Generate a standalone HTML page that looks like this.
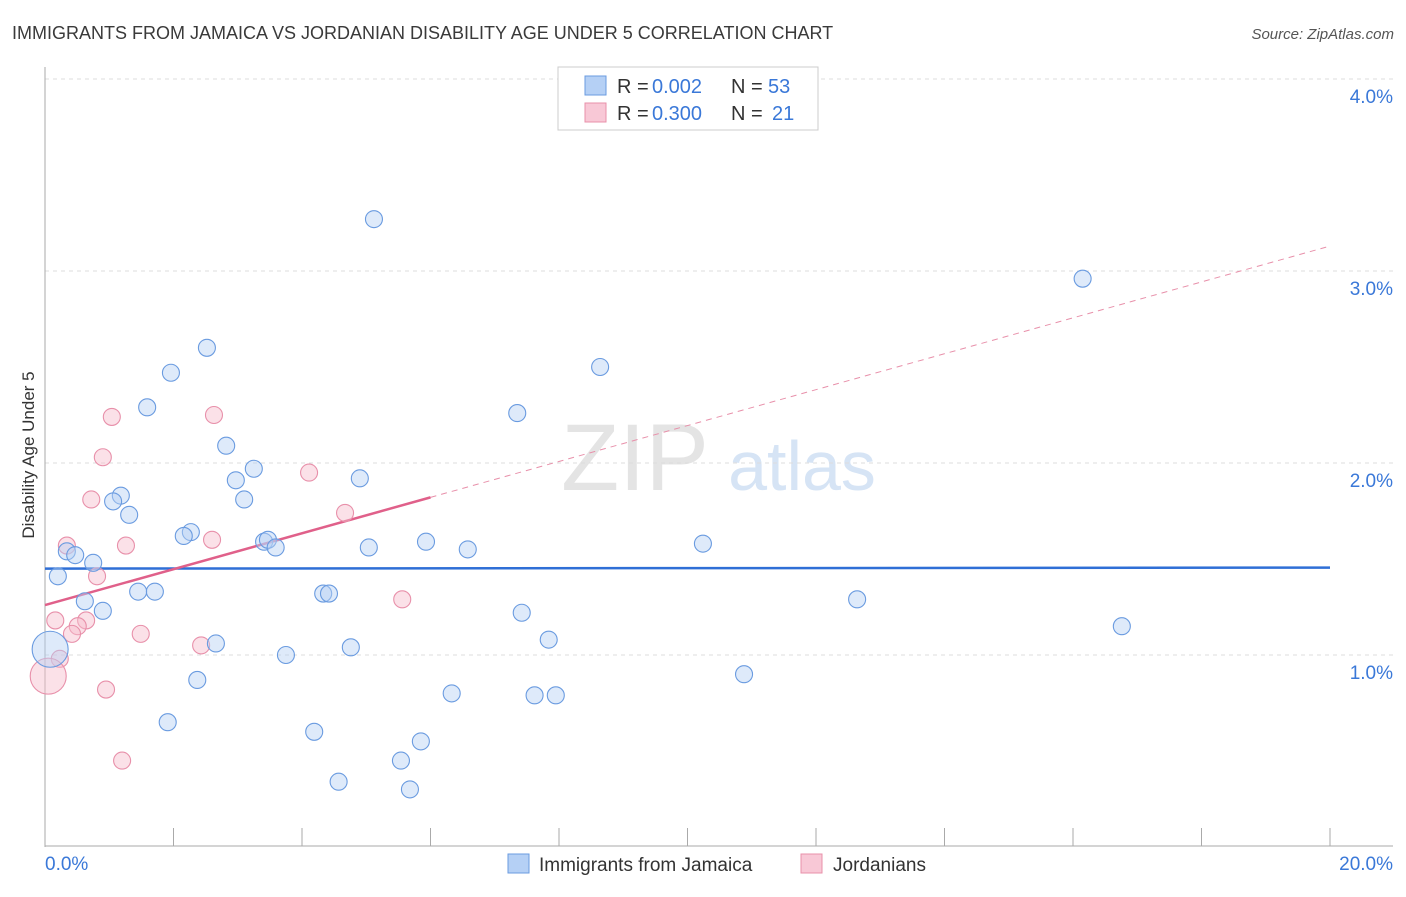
<!DOCTYPE html>
<html><head><meta charset="utf-8"><style>
body{margin:0;background:#fff;font-family:"Liberation Sans",sans-serif;}
svg text{font-family:"Liberation Sans",sans-serif;}
</style></head><body>
<svg id="chart" width="1406" height="892" xmlns="http://www.w3.org/2000/svg">
<text x="12" y="39" font-size="18" fill="#3a3a3a">IMMIGRANTS FROM JAMAICA VS JORDANIAN DISABILITY AGE UNDER 5 CORRELATION CHART</text>
<text x="1394" y="39" font-size="15" fill="#555" text-anchor="end" font-style="italic">Source: ZipAtlas.com</text>
<text transform="translate(34,455) rotate(-90)" font-size="17" fill="#333" text-anchor="middle">Disability Age Under 5</text>
<g>
<text x="635" y="490" font-size="95" fill="#e4e4e4" font-family="Liberation Serif" text-anchor="middle">ZIP</text>
<text x="802" y="490" font-size="70" fill="#d6e4f5" text-anchor="middle">atlas</text>
</g>
<g id="grid"></g><g id="axes"></g><g id="trends"></g><g id="points"></g>
<g>
<rect x="558" y="67" width="260" height="63" fill="#fff" stroke="#ccc"/>
<rect x="585" y="76" width="21" height="19" fill="#b5d0f5" stroke="#6a9be0"/>
<text x="617" y="93" font-size="20" fill="#333">R =</text>
<text x="652" y="93" font-size="20" fill="#3a78d8">0.002</text>
<text x="731" y="93" font-size="20" fill="#333">N =</text>
<text x="768" y="93" font-size="20" fill="#3a78d8">53</text>
<rect x="585" y="103" width="21" height="19" fill="#f8c8d6" stroke="#e890aa"/>
<text x="617" y="120" font-size="20" fill="#333">R =</text>
<text x="652" y="120" font-size="20" fill="#3a78d8">0.300</text>
<text x="731" y="120" font-size="20" fill="#333">N =</text>
<text x="772" y="120" font-size="20" fill="#3a78d8">21</text>
</g>
<g>
<rect x="508" y="854" width="21" height="19" fill="#b5d0f5" stroke="#6a9be0"/>
<text x="539" y="871" font-size="19" fill="#333">Immigrants from Jamaica</text>
<rect x="801" y="854" width="21" height="19" fill="#f8c8d6" stroke="#e890aa"/>
<text x="833" y="871" font-size="19" fill="#333">Jordanians</text>
</g>
</svg>
<script>
const jamX=[5.12,16.15,2.52,8.64,1.96,1.59,7.35,2.82,3.25,2.97,4.90,1.18,1.06,3.10,1.31,2.27,2.16,3.41,3.47,3.59,5.04,5.93,6.58,10.24,0.34,0.47,0.75,0.20,0.62,0.90,1.45,1.71,4.33,4.42,12.64,7.42,16.76,7.84,2.66,4.76,3.75,0.08,2.37,10.88,6.33,7.62,7.95,1.91,4.19,5.85,5.54,4.57,5.68];
const jamY=[3.27,2.96,2.60,2.50,2.47,2.29,2.26,2.09,1.97,1.91,1.92,1.83,1.80,1.81,1.73,1.64,1.62,1.59,1.60,1.56,1.56,1.59,1.55,1.58,1.54,1.52,1.48,1.41,1.28,1.23,1.33,1.33,1.32,1.32,1.29,1.22,1.15,1.08,1.06,1.04,1.00,1.03,0.87,0.90,0.80,0.79,0.79,0.65,0.60,0.55,0.45,0.34,0.30];
const jorX=[1.04,2.63,0.90,4.11,0.72,4.67,0.34,1.26,2.60,0.81,5.56,0.16,0.64,0.51,0.42,1.49,2.43,0.23,0.05,0.95,1.20];
const jorY=[2.24,2.25,2.03,1.95,1.81,1.74,1.57,1.57,1.60,1.41,1.29,1.18,1.18,1.15,1.11,1.11,1.05,0.98,0.89,0.82,0.45];
const yTicks=[1,2,3,4];
const yTickLabels=["1.0%","2.0%","3.0%","4.0%"];
const jamTrend=[1.45,1.455];
const jorTrend=[1.26,3.13];
const jorSolidEnd=6.0;
const NS="http://www.w3.org/2000/svg";
const X=v=>45+v/20*1285, Y=v=>847-v*192;
function mk(tag,attrs,parent){const e=document.createElementNS(NS,tag);for(const k in attrs)e.setAttribute(k,attrs[k]);parent.appendChild(e);return e;}
const grid=document.getElementById('grid'),axes=document.getElementById('axes'),tr=document.getElementById('trends'),pts=document.getElementById('points');
yTicks.forEach((t,i)=>{
 const l=mk('line',{x1:45,x2:1393,y1:Y(t),y2:Y(t),stroke:'#ddd','stroke-dasharray':'4,4'},grid);
 
 
 const tx=mk('text',{x:1393,y:Y(t)+24,'font-size':19,fill:'#3a78d8','text-anchor':'end'},grid);
 tx.textContent=yTickLabels[i];
 
 
});
const ya=mk('line',{x1:45,x2:45,y1:67,y2:847,stroke:'#aaa'},axes);


const xa=mk('line',{x1:45,x2:1393,y1:846,y2:846,stroke:'#aaa'},axes);


for(let i=0;i<=10;i++){const t=mk('line',{x1:X(i*2),x2:X(i*2),y1:828,y2:846,stroke:'#aaa'},axes);
 
 }
const x0=mk('text',{x:45,y:870,'font-size':19,fill:'#3a78d8'},axes);x0.textContent='0.0%';


const x1=mk('text',{x:1393,y:870,'font-size':19,fill:'#3a78d8','text-anchor':'end'},axes);x1.textContent='20.0%';


function dot(x,y,big,fill,stroke,name){const r=big?18:8.5;
 const c=mk('circle',{cx:X(x),cy:Y(y),r:r,fill:fill,'fill-opacity':0.45,stroke:stroke,'stroke-width':1.1},pts);
 
 }
jorX.forEach((x,i)=>dot(x,jorY[i],i===18,'#f6bccd','#e890aa','jordanians-point'));
jamX.forEach((x,i)=>dot(x,jamY[i],i===41,'#b5d0f5','#6a9be0','jamaica-point'));
const bl=mk('line',{x1:X(0),x2:X(20),y1:Y(jamTrend[0]),y2:Y(jamTrend[1]),stroke:'#2f6fd6','stroke-width':2.5},tr);


const py=x=>jorTrend[0]+(jorTrend[1]-jorTrend[0])*x/20;
const pl=mk('line',{x1:X(0),x2:X(jorSolidEnd),y1:Y(py(0)),y2:Y(py(jorSolidEnd)),stroke:'#e0608a','stroke-width':2.5},tr);


const pd=mk('line',{x1:X(jorSolidEnd),x2:X(20),y1:Y(py(jorSolidEnd)),y2:Y(py(20)),stroke:'#e890aa','stroke-width':1,'stroke-dasharray':'6,5'},tr);


</script>
</body></html>
